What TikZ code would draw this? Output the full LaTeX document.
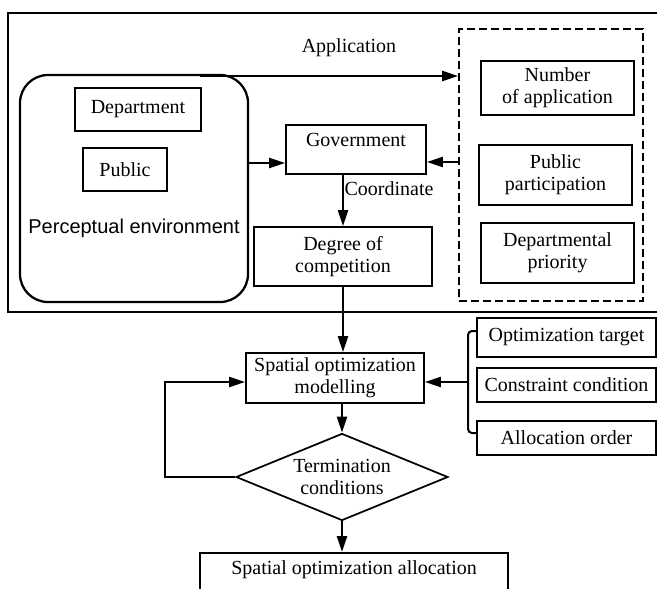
\documentclass[tikz,border=0pt]{standalone}
\usepackage{fontspec}
\setmainfont{Liberation Serif}
\newfontfamily\arialfont{Liberation Sans}
\usetikzlibrary{shapes.geometric,arrows.meta}

\begin{document}
\begin{tikzpicture}[%
      x=0.75pt, y=-0.75pt,
      every node/.style={font=\fontsize{15}{16.5}\selectfont},
      box/.style={draw, line width=1.3pt, inner sep=0pt, align=center},
      arr/.style={line width=1.8pt, -{Triangle[length=12pt,width=7.5pt]}},
      ]
      \useasboundingbox (0,0) rectangle (657,589);
      \clip (0,0) rectangle (657,589);
      \draw [line width=1.3pt] (8,13) rectangle (680,312);

      \node [box, rounded corners=21pt, line width=1.7pt, minimum width=171pt, minimum height=170.25pt] (env) at (134,188.5) {};
      \node [box, minimum width=94.5pt, minimum height=32.25pt] (dept) at (138,109.5) {Department};
      \node [box, minimum width=63pt, minimum height=32.25pt] (pub) at (125,169.5) {Public};
      \node [font=\arialfont\fontsize{15}{16.5}\selectfont] (envtxt) at (134,228) {Perceptual environment};

      \node [box, minimum width=105pt, minimum height=36.75pt, text height=10pt, text depth=14pt] (gov) at (356,149.5) {Government};
      \node [box, minimum width=133.5pt, minimum height=44.25pt] (deg) at (343,256.5) {Degree of\\competition};
      \node (coordtxt) at (389,189) {Coordinate};
      \node (apptxt) at (349,48) {Application};

      \node [draw, dash pattern=on 6pt off 3pt, line width=1.3pt, inner sep=0pt, minimum width=138pt, minimum height=204pt] (grp) at (551,165) {};
      \node [box, minimum width=114.75pt, minimum height=40.5pt] (numapp) at (557.5,88) {Number\\of application};
      \node [box, minimum width=114.75pt, minimum height=45pt] (pubpart) at (555.5,175) {Public\\participation};
      \node [box, minimum width=114.75pt, minimum height=45pt] (deppri) at (557.5,253) {Departmental\\priority};

      \node [box, minimum width=133.5pt, minimum height=37.5pt] (model) at (335,378) {Spatial optimization\\modelling};
      \node [box, shape=diamond, aspect=2.4, minimum width=159pt, minimum height=65.25pt] (term) at (342,477) {Termination\\conditions};
      \node [box, anchor=north, minimum width=231pt, text height=16pt, text depth=20pt] (alloc) at (354,552) {Spatial optimization allocation};

      \node [box, minimum width=134.25pt, minimum height=29.25pt] (opt) at (566.5,337.5) {Optimization target};
      \node [box, minimum width=134.25pt, minimum height=25.5pt] (con) at (566.5,385) {Constraint condition};
      \node [box, minimum width=134.25pt, minimum height=25.5pt] (ord) at (566.5,438) {Allocation order};

      \coordinate (appstart) at (200,76);
      \coordinate (brk) at (468,382);
      \draw [arr] (appstart) -- (appstart -| grp.west);
      \draw [arr] (env.east |- 0,163) -- (gov.west |- 0,163);
      \draw [arr] (grp.west |- 0,162) -- (gov.east |- 0,162);
      \draw [arr] (deg.north |- gov.south) -- (deg.north);
      \draw [arr] (deg.south) -- (deg.south |- model.north);
      \draw [arr] (term.north |- model.south) -- (term.north);
      \draw [arr] (term.south) -- (term.south |- alloc.north);
      \draw [arr] (term.west) -- ++(-70,0) |- (model.west |- brk);
      \draw [line width=1.5pt, rounded corners=3pt] (opt.west |- 0,331) -| (brk) |- (ord.west |- 0,433);
      \draw [arr] (brk) -- (model.east |- brk);
\end{tikzpicture}
\end{document}
